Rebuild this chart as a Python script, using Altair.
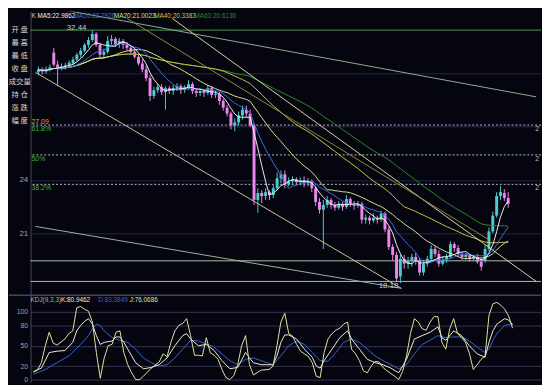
import altair as alt
import pandas as pd

# ---------------- candle data (daily OHLC) ----------------
idx = list(range(123))
opens = [
    30.06, 30.22, 30.11, 30.22, 31.17, 30.50, 30.28, 30.39, 30.45, 30.56,
    30.78, 31.05, 31.28, 31.61, 31.88, 32.22, 31.61, 31.05, 31.22, 31.83,
    31.94, 31.66, 31.83, 31.61, 31.44, 31.22, 30.94, 30.56, 30.22, 29.73,
    28.73, 29.06, 29.23, 28.95, 29.17, 29.01, 29.17, 29.28, 29.06, 29.23,
    29.40, 29.01, 28.90, 29.01, 28.90, 29.17, 28.79, 28.84, 28.45, 28.07,
    27.74, 27.07, 27.24, 27.63, 27.96, 27.74, 27.07, 22.87, 23.26, 23.09,
    23.31, 23.15, 23.53, 24.09, 24.31, 23.75, 23.92, 24.03, 23.87, 23.98,
    23.81, 23.92, 23.53, 22.76, 22.32, 22.59, 22.87, 22.59, 22.43, 22.65,
    22.48, 22.92, 22.65, 22.54, 22.65, 21.76, 21.87, 21.71, 21.87, 21.76,
    22.10, 21.21, 20.22, 19.77, 18.56, 19.55, 19.28, 19.44, 19.66, 19.44,
    18.78, 19.28, 19.55, 20.11, 19.83, 19.28, 19.50, 19.66, 20.38, 20.16,
    19.83, 19.66, 19.77, 19.55, 19.66, 19.39, 19.44, 20.11, 21.10, 21.99,
    23.09, 23.26, 22.98]
closes = [
    30.22, 30.11, 30.22, 30.34, 30.50, 30.28, 30.39, 30.45, 30.61, 30.78,
    31.05, 31.28, 31.61, 31.88, 32.22, 31.61, 31.05, 31.22, 31.83, 31.94,
    31.66, 31.83, 31.61, 31.44, 31.22, 30.94, 30.56, 30.22, 29.73, 28.73,
    29.06, 29.23, 28.95, 29.17, 29.01, 29.17, 29.28, 29.06, 29.23, 29.40,
    29.01, 28.90, 29.01, 28.90, 29.17, 28.79, 28.84, 28.45, 28.07, 27.74,
    27.07, 27.24, 27.63, 27.96, 27.74, 27.07, 22.87, 23.26, 23.09, 23.31,
    23.15, 23.53, 24.09, 24.31, 23.75, 23.92, 24.03, 23.87, 23.98, 23.81,
    23.92, 23.53, 22.76, 22.32, 22.59, 22.87, 22.59, 22.43, 22.65, 22.48,
    22.92, 22.65, 22.54, 22.65, 21.76, 21.87, 21.71, 21.87, 21.76, 22.10,
    21.21, 20.22, 19.77, 18.45, 19.55, 19.28, 19.44, 19.66, 19.44, 18.78,
    19.28, 19.55, 20.11, 19.83, 19.28, 19.50, 19.66, 20.38, 20.16, 19.83,
    19.66, 19.77, 19.55, 19.66, 19.39, 19.11, 20.11, 21.10, 21.99, 23.09,
    23.31, 22.98, 22.65]
highs = [
    30.39, 30.34, 30.39, 30.50, 31.44, 30.72, 30.56, 30.61, 30.72, 30.94,
    31.17, 31.44, 31.72, 32.05, 32.44, 32.33, 31.72, 31.39, 32.11, 32.16,
    32.05, 31.99, 31.94, 31.77, 31.61, 31.39, 31.11, 30.78, 30.45, 29.89,
    29.23, 29.40, 29.40, 29.28, 29.28, 29.34, 29.45, 29.40, 29.34, 29.62,
    29.51, 29.17, 29.12, 29.12, 29.34, 29.28, 29.01, 28.95, 28.57, 28.23,
    27.85, 27.46, 27.85, 28.18, 28.18, 27.96, 27.18, 23.53, 23.42, 23.53,
    23.42, 23.70, 24.42, 24.53, 24.53, 24.14, 24.20, 24.14, 24.14, 24.20,
    24.09, 24.03, 23.64, 22.98, 22.87, 23.09, 22.98, 22.76, 22.81, 22.76,
    23.15, 23.04, 22.81, 22.81, 22.76, 22.04, 21.99, 22.10, 21.99, 22.26,
    22.21, 21.38, 20.38, 19.94, 19.83, 19.77, 19.66, 19.83, 19.88, 19.61,
    19.50, 19.72, 20.33, 20.27, 20.05, 19.72, 19.83, 20.55, 20.49, 20.33,
    19.94, 19.88, 19.83, 19.77, 19.83, 19.61, 20.33, 21.32, 22.21, 23.31,
    23.64, 23.48, 23.31]
lows = [
    29.89, 29.95, 30.00, 30.11, 30.39, 29.28, 30.17, 30.22, 30.34, 30.50,
    30.67, 30.89, 31.17, 31.44, 31.77, 31.50, 30.89, 30.83, 31.11, 31.61,
    31.50, 31.44, 31.39, 31.28, 31.05, 30.83, 30.45, 30.06, 29.56, 28.45,
    28.57, 28.90, 28.79, 27.96, 28.84, 28.79, 29.01, 28.84, 28.90, 29.06,
    28.84, 28.68, 28.73, 28.68, 28.79, 28.62, 28.62, 28.23, 27.90, 27.57,
    26.85, 26.74, 27.07, 27.40, 27.52, 26.96, 22.59, 22.15, 22.70, 22.87,
    22.87, 22.98, 23.42, 23.81, 23.53, 23.64, 23.75, 23.70, 23.70, 23.59,
    23.64, 23.31, 22.54, 22.10, 20.11, 22.43, 22.37, 22.26, 22.32, 22.26,
    22.37, 22.48, 22.32, 22.43, 21.54, 21.54, 21.49, 21.60, 21.54, 21.65,
    21.05, 20.05, 19.44, 18.28, 18.18, 19.00, 19.00, 19.11, 19.22, 18.61,
    18.61, 19.11, 19.44, 19.66, 19.11, 19.17, 19.33, 19.55, 19.94, 19.66,
    19.50, 19.50, 19.39, 19.44, 19.28, 18.89, 19.33, 19.99, 20.99, 21.87,
    22.87, 22.81, 22.43]

# ---------------- drawn lines (index, price) ----------------
trend_names = ["t1", "t2", "t3", "t4", "t5"]
trend_i1 = [-0.75, 34.75, 23.0, -0.75, -0.75]
trend_p1 = [33.87, 33.10, 33.10, 30.06, 21.38]
trend_i2 = [129.25, 129.25, 116.75, 94.25, 94.25]
trend_p2 = [28.68, 18.28, 20.66, 17.89, 17.89]
trend_colors = ["#8fae8f", "#d8d8a0", "#8c8c3c", "#c8c89a", "#9db49d"]

hline_levels = [32.44, 19.44, 18.28]
hline_colors = ["#4f9a4f", "#b4c0ac", "#b4c0ac"]
fib_levels = [27.09, 25.41, 23.75]
fib_labels = ["61.8%", "50%", "38.2%"]
fib_right = ["2", "2", "2"]

# ---------------- KDJ(9,3,3) ----------------
j_idx = [0, 1, 2, 3, 4, 5, 6, 8, 9, 10, 11, 12, 13, 14, 15, 16, 17, 18, 19, 20,
         21, 22, 23, 24, 25, 26, 27, 28, 30, 32, 33, 34, 35, 36, 37, 38, 39, 40, 41, 42,
         43, 44, 45, 46, 47, 48, 49, 50, 51, 52, 53, 54, 55, 56, 58, 60, 61, 62, 63, 64,
         65, 66, 67, 68, 69, 70, 71, 72, 73, 74, 75, 76, 77, 78, 79, 80, 81, 82, 83, 84,
         85, 86, 87, 88, 89, 90, 91, 92, 93, 94, 95, 96, 97, 98, 99, 100, 101, 102, 103, 104,
         105, 106, 107, 108, 109, 110, 111, 112, 113, 114, 115, 116, 117, 118, 119, 120, 121, 122]
j_val = [11, 14, 25, 50, 70, 54, 51, 60, 68, 72, 106, 108, 104, 101, 85, 40, 2, 32, 50, 52,
         70, 72, 40, 22, 10, 0, 0, 5, 17, 26, 38, 34, 55, 72, 80, 83, 90, 65, 36, 36,
         35, 62, 40, 36, 30, 15, 3, 0, 6, 22, 50, 65, 22, 7, 14, 15, 20, 50, 85, 98,
         68, 64, 52, 42, 38, 34, 25, 5, 3, 40, 60, 68, 73, 76, 82, 85, 45, 38, 28, 13,
         10, 20, 27, 26, 18, 13, 9, 5, 0, 12, 35, 68, 90, 85, 75, 73, 85, 93, 93, 55,
         45, 75, 90, 68, 62, 55, 39, 15, 22, 30, 35, 95, 112, 114, 110, 104, 94, 76]
k_idx = [0, 2, 4, 6, 8, 10, 11, 12, 13, 14, 15, 16, 17, 18, 19, 20, 21, 22, 23, 24,
         25, 26, 28, 30, 32, 34, 36, 38, 39, 40, 42, 44, 46, 48, 50, 52, 54, 55, 56, 58,
         61, 62, 63, 64, 65, 67, 69, 71, 72, 73, 74, 76, 78, 80, 81, 83, 85, 87, 89, 91,
         93, 95, 97, 99, 101, 103, 104, 105, 107, 109, 111, 113, 115, 116, 117, 118, 120, 121, 122]
k_val = [12, 17, 40, 42, 43, 55, 72, 80, 86, 90, 82, 65, 52, 55, 56, 57, 63, 63, 55, 45,
         35, 25, 16, 18, 22, 32, 50, 65, 68, 60, 50, 52, 43, 28, 16, 18, 40, 32, 25, 22,
         22, 35, 55, 66, 66, 60, 45, 33, 20, 17, 28, 45, 62, 72, 60, 45, 30, 25, 22, 17,
         10, 30, 60, 65, 70, 78, 62, 58, 72, 65, 50, 38, 33, 55, 72, 82, 90, 88, 81]
d_idx = [0, 3, 6, 9, 12, 14, 15, 16, 17, 18, 20, 22, 24, 26, 28, 30, 32, 34, 36, 38,
         40, 42, 44, 46, 48, 50, 52, 54, 56, 58, 61, 63, 65, 67, 69, 71, 73, 75, 77, 79,
         81, 83, 85, 87, 89, 91, 93, 95, 97, 99, 101, 103, 105, 107, 109, 111, 113, 115, 116, 117,
         118, 120, 122]
d_val = [8, 15, 25, 35, 52, 65, 75, 82, 80, 72, 62, 58, 55, 45, 32, 25, 20, 22, 32, 45,
         58, 57, 53, 48, 38, 28, 22, 30, 32, 28, 22, 35, 50, 57, 52, 40, 28, 27, 40, 55,
         60, 55, 45, 35, 28, 22, 16, 22, 38, 52, 58, 65, 62, 63, 63, 57, 48, 40, 45, 58,
         68, 80, 83]

# ---------------- styling ----------------
BG = "#05050f"
UP = "#4ccccc"
DOWN = "#ec86ec"
GRID = "#2c2444"
AXC = "#4a4460"
LBL = "#a0a0b0"
FONT = "Liberation Sans"

df = pd.DataFrame({"i": idx, "o": opens, "h": highs, "l": lows, "c": closes})

xsc = alt.Scale(domain=[-0.75, 129.25], nice=False, zero=False)
ysc = alt.Scale(domain=[17.56, 33.49], nice=False, zero=False)
yax = alt.Axis(values=[21, 24, 27, 30], labelExpr="datum.value < 25 ? datum.label : ''",
               grid=True, gridColor=GRID, domainColor=AXC, ticks=False,
               labelColor=LBL, labelFontSize=8, labelFont=FONT, labelPadding=3,
               minExtent=22, maxExtent=22, title=None)


def X(f="i"):
    return alt.X(f"{f}:Q", scale=xsc, axis=None)


def Y(f):
    return alt.Y(f"{f}:Q", scale=ysc, axis=yax)


cond = alt.condition("datum.c >= datum.o", alt.value(UP), alt.value(DOWN))
base = alt.Chart(df)

layers = []

# horizontal levels
for lv, col in zip(hline_levels, hline_colors):
    layers.append(alt.Chart(pd.DataFrame({"lv": [lv]})).mark_rule(color=col, strokeWidth=1)
                  .encode(y=Y("lv")))
fib_df = pd.DataFrame({"lv": fib_levels, "lab": fib_labels, "r": fib_right})
layers.append(alt.Chart(fib_df).mark_rule(color="#b8c0c8", strokeDash=[2, 2], strokeWidth=1)
              .encode(y=Y("lv")))

# candles
layers.append(base.mark_rule(strokeWidth=1).encode(x=X(), y=Y("l"), y2=alt.Y2("h"), color=cond))
layers.append(base.mark_bar(size=3).encode(x=X(), y=Y("o"), y2=alt.Y2("c"), color=cond))

# moving averages
ma_specs = [(60, "#2e8a2e"), (40, "#d8c040"), (20, "#d4e49a"), (10, "#3e6ee0"), (5, "#f0f0f0")]
for n, col in ma_specs:
    layers.append(
        base.transform_window(ma="mean(c)", frame=[-(n - 1), 0], sort=[alt.SortField("i")])
        .mark_line(color=col, strokeWidth=1, clip=True)
        .encode(x=X(), y=Y("ma"))
    )

# trend lines
for nm, a1, b1, a2, b2, col in zip(trend_names, trend_i1, trend_p1, trend_i2, trend_p2, trend_colors):
    tdf = pd.DataFrame({"i": [a1, a2], "p": [b1, b2]})
    layers.append(alt.Chart(tdf).mark_line(color=col, strokeWidth=1, clip=True)
                  .encode(x=X(), y=Y("p")))

# labels in plot
layers.append(alt.Chart(pd.DataFrame({"i": [14], "p": [32.44], "t": ["32.44"]}))
              .mark_text(align="right", dx=-6, dy=-2, fontSize=8, font=FONT, color="#c8c8c8")
              .encode(x=X(), y=Y("p"), text="t:N"))
layers.append(alt.Chart(pd.DataFrame({"i": [94], "p": [18.18], "t": ["18.18"]}))
              .mark_text(align="right", dx=-2, dy=3, fontSize=8, font=FONT, color="#c8c8c8")
              .encode(x=X(), y=Y("p"), text="t:N"))
layers.append(alt.Chart(pd.DataFrame({"p": [27.09], "t": ["27.09"]}))
              .mark_text(align="left", dx=0, dy=-3, fontSize=7, font=FONT, color="#e8a040")
              .encode(x=alt.value(1), y=Y("p"), text="t:N"))
layers.append(alt.Chart(fib_df).mark_text(align="left", dy=4, fontSize=7, font=FONT, color="#3cb43c")
              .encode(x=alt.value(1), y=Y("lv"), text="lab:N"))
layers.append(alt.Chart(fib_df).mark_text(align="left", dy=4, fontSize=7, font=FONT, color="#c0c0c0")
              .encode(x=alt.value(514), y=Y("lv"), text="r:N"))

# legend row
legend_items = [("K", "#d0d0d0", 1), ("MA5:22.9862", "#f0f0f0", 7), ("MA10:22.2926", "#3e6ee0", 44),
                ("MA20:21.0023", "#d4e49a", 85), ("MA40:20.3383", "#d8c040", 126),
                ("MA60:20.6136", "#2e8a2e", 167)]
for txt, col, xp in legend_items:
    layers.append(alt.Chart(pd.DataFrame({"t": [txt]})).mark_text(align="left", fontSize=6.5, font=FONT, color=col)
                  .encode(x=alt.value(xp), y=alt.value(5), text="t:N"))

# left info panel
side_labels = ["开 盘", "最 高", "最 低", "收 盘", "成交量", "持 仓", "涨 跌", "幅 度"]
for k, lab in enumerate(side_labels):
    fs = 7.5 if len(lab) == 3 else 9
    layers.append(alt.Chart(pd.DataFrame({"t": [lab]})).mark_text(align="center", fontSize=fs,
                  font="Noto Sans CJK SC", color="#d8d8d8")
                  .encode(x=alt.value(-11), y=alt.value(19 + 13.2 * k), text="t:N"))

main = alt.layer(*layers).properties(width=520, height=288)

# ---------------- KDJ panel ----------------
kysc = alt.Scale(domain=[-4.3, 124.7], nice=False, zero=False)
kax = alt.Axis(values=[0, 20, 50, 80, 100], grid=True, gridColor="#3a3452", domainColor=AXC,
               ticks=False, labelColor=LBL, labelFontSize=7, labelFont=FONT, labelPadding=3,
               minExtent=22, maxExtent=22, title=None)


def KY(f):
    return alt.Y(f"{f}:Q", scale=kysc, axis=kax)


klayers = []
for ii, vv, col in [(d_idx, d_val, "#3a64d0"), (k_idx, k_val, "#f2f0d8"), (j_idx, j_val, "#dfe6a0")]:
    kd = pd.DataFrame({"i": ii, "v": vv})
    klayers.append(alt.Chart(kd).mark_line(color=col, strokeWidth=1, clip=True)
                   .encode(x=X(), y=KY("v")))
klayers.append(alt.Chart(pd.DataFrame({"a": [0]})).mark_rule(color="#6a6a7a", strokeWidth=1)
               .encode(x=alt.value(-22), x2=alt.value(520), y=alt.value(0)))
kdj_items = [("KDJ(9,3,3)", "#b0b0b0", 0), ("K:80.9462", "#f2f0d8", 31),
             ("D:83.3849", "#3a64d0", 69), ("J:76.0686", "#dfe6a0", 101)]
for txt, col, xp in kdj_items:
    klayers.append(alt.Chart(pd.DataFrame({"t": [txt]})).mark_text(align="left", fontSize=6.5, font=FONT, color=col)
                   .encode(x=alt.value(xp), y=alt.value(5), text="t:N"))

kdj = alt.layer(*klayers).properties(width=520, height=89)

chart = (alt.vconcat(main, kdj, spacing=0)
         .properties(padding=0, background=BG)
         .configure_view(stroke=None))

chart.save("out.html", embed_options={"renderer": "svg", "actions": False})
